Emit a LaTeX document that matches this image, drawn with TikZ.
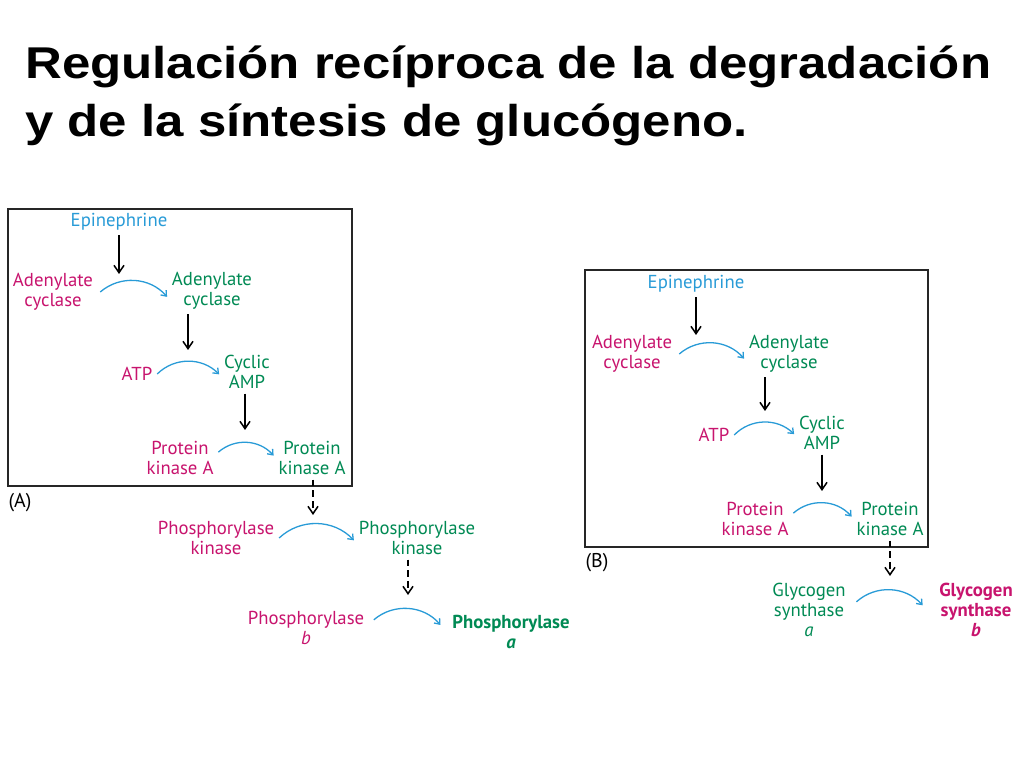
\documentclass[tikz,border=0pt]{standalone}
\usepackage{fontspec}
\setmainfont{Liberation Sans}
\newfontfamily\diag{PT Sans}
\usetikzlibrary{arrows.meta,calc,positioning}
\definecolor{rose}{RGB}{200,20,110}
\definecolor{vert}{RGB}{0,138,84}
\definecolor{bleu}{RGB}{40,155,215}
\tikzset{%
	>={Straight Barb[length=2.2mm,width=3mm]},
	% Specifications for style of nodes:
	base/.style = {font=\diag\fontsize{16}{17}\selectfont, align=center, inner sep=4pt},
	inactive/.style = {base, text=rose},
	active/.style = {base, text=vert},
	signal/.style = {base, text=bleu},
	finala/.style = {active, font=\diag\bfseries\fontsize{16}{17}\selectfont},
	finalb/.style = {inactive, font=\diag\bfseries\fontsize{16}{17}\selectfont},
	panel/.style = {draw=black!85, line width=1.2pt},
	tag/.style = {base, text=black, font=\diag\fontsize{17}{18}\selectfont},
	title/.style = {font=\bfseries\fontsize{38}{44}\selectfont, anchor=base west, inner sep=0pt},
	% Specifications for style of connectors:
	conv/.style = {bleu, line width=1.1pt, -{Straight Barb[length=1.4mm,width=2.2mm]}},
	act/.style = {black, line width=1.3pt, ->},
	dact/.style = {act, dash pattern=on 2mm off 1.2mm}
}

\begin{document}
\begin{tikzpicture}[x=0.03cm, y=-0.03cm]
	\path[fill=white, use as bounding box] (0,0) rectangle (1024,768);
	% Title
	\node (t1) [title] at (25,79) {\scalebox{1.145}[1]{Regulación recíproca de la degradación}};
	\node (t2) [title] at (25,137) {\scalebox{1.145}[1]{y de la síntesis de glucógeno.}};
	
	% Panel (A)
	\draw[panel] (8,209) rectangle (352,486);
	\node (epiA)  [signal]   at (119,222) {Epinephrine};
	\node (acmA)  [inactive] at (53,292)  {Adenylate\\cyclase};
	\node (acgA)  [active]   at (212,291) {Adenylate\\cyclase};
	\node (atpA)  [inactive] at (137,374) {ATP};
	\node (campA) [active]   at (247,372) {Cyclic\\AMP};
	\node (pkmA)  [inactive] at (180,458) {Protein\\kinase A};
	\node (pkgA)  [active]   at (312,458) {Protein\\kinase A};
	\node (labA)  [tag]      at (20,503)  {(A)};
	\node (phkmA) [inactive] at (216,538) {Phosphorylase\\kinase};
	\node (phkgA) [active]   at (417,538) {Phosphorylase\\kinase};
	\node (phbA)  [inactive] at (306,628) {Phosphorylase\\\textit{b}};
	\node (phaA)  [finala]   at (511,632) {Phosphorylase\\\textit{a}};
	\coordinate (hA1) at (119,274);
	\coordinate (hA2) at (188,350);
	\coordinate (hA3) at (245,430);
	\coordinate (hA4) at (313,515);
	\coordinate (hA5) at (408,595);
	
	\draw[conv] ([xshift=2pt]acmA.east) to[bend left=45] ([yshift=-5pt]acgA.west);
	\draw[conv] (atpA.east) to[bend left=45] ([yshift=-2pt]campA.west);
	\draw[conv] ([yshift=5pt]pkmA.east) to[bend left=45] ([yshift=2pt]pkgA.west);
	\draw[conv] (phkmA.east) to[bend left=45] ([yshift=-2pt]phkgA.west);
	\draw[conv] ([xshift=4pt,yshift=7pt]phbA.east) to[bend left=45] ([xshift=-6pt,yshift=6pt]phaA.west);
	\draw[act] (epiA) -- (hA1);
	\draw[act] (acgA.south -| hA2) -- (hA2);
	\draw[act] (campA.south -| hA3) -- (hA3);
	\draw[dact] (pkgA.south -| hA4) -- (hA4);
	\draw[dact] (phkgA.south -| hA5) -- (hA5);
	
	% Panel (B)
	\draw[panel] (585,270) rectangle (928,547);
	\node (epiB)  [signal]   at (696,284) {Epinephrine};
	\node (acmB)  [inactive] at (632,354) {Adenylate\\cyclase};
	\node (acgB)  [active]   at (789,354) {Adenylate\\cyclase};
	\node (atpB)  [inactive] at (714,435) {ATP};
	\node (campB) [active]   at (822,433) {Cyclic\\AMP};
	\node (pkmB)  [inactive] at (755,519) {Protein\\kinase A};
	\node (pkgB)  [active]   at (890,519) {Protein\\kinase A};
	\node (labB)  [tag]      at (597,563) {(B)};
	\node (gsaB)  [active]   at (809,610) {Glycogen\\synthase\\\textit{a}};
	\node (gsbB)  [finalb]   at (976,610) {Glycogen\\synthase\\\textit{b}};
	\coordinate (hB1) at (696,335);
	\coordinate (hB2) at (765,411);
	\coordinate (hB3) at (822,491);
	\coordinate (hB4) at (890,576);
	
	\draw[conv] ([xshift=2pt]acmB.east) to[bend left=45] ([yshift=-4pt]acgB.west);
	\draw[conv] (atpB.east) to[bend left=45] ([yshift=-1pt]campB.west);
	\draw[conv] ([yshift=5pt]pkmB.east) to[bend left=45] ([yshift=2pt]pkgB.west);
	\draw[conv] ([xshift=5pt,yshift=7pt]gsaB.east) to[bend left=45] ([xshift=-10pt,yshift=4pt]gsbB.west);
	\draw[act] (epiB) -- (hB1);
	\draw[act] (acgB.south -| hB2) -- (hB2);
	\draw[act] (campB.south -| hB3) -- (hB3);
	\draw[dact] (pkgB.south -| hB4) -- (hB4);
\end{tikzpicture}
\end{document}
